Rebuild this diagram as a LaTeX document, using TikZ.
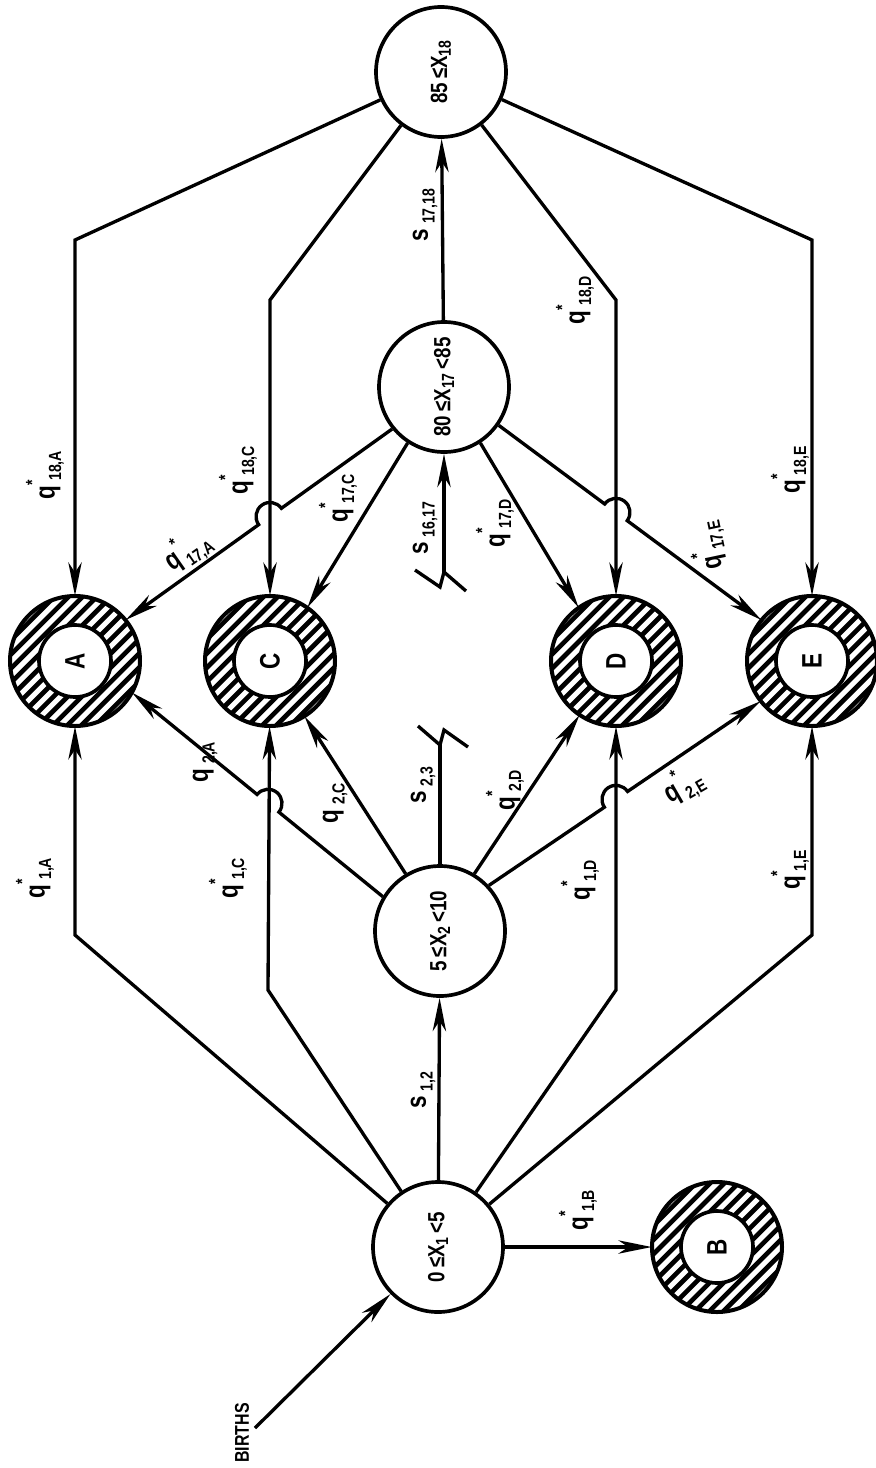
\documentclass[tikz,border=0pt]{standalone}
\usepackage{fontspec}
\setmainfont{Liberation Sans}[FakeStretch=0.8]
\usetikzlibrary{arrows.meta,calc}
\newcommand\nfont{\fontsize{20}{20}\selectfont\bfseries}
\newcommand\lfont{\fontsize{24}{24}\selectfont\bfseries}
\newcommand\sfnt{\fontsize{15}{15}\selectfont\bfseries}
\newcommand\qq[2]{#1\makebox[0pt][l]{\raisebox{1.1ex}{\sfnt *}}\,\raisebox{-0.45ex}{\sfnt #2}}
\newcommand\qn[2]{#1\,\raisebox{-0.45ex}{\sfnt #2}}
\newcommand\xs[1]{\raisebox{-0.3ex}{\fontsize{15}{15}\selectfont #1}}
\newcommand\hring[1]{%
  \begin{scope}
    \clip (#1) circle[radius=65];
    \foreach \k in {-14,...,14} {\draw[line width=1.4mm] ($(#1)+(\k*14.14-120,120)$) -- ++(240,-240);}
  \end{scope}
  \fill[white] (#1) circle[radius=36];
  \draw[line width=1.2mm] (#1) circle[radius=65];
  \draw[line width=1.1mm] (#1) circle[radius=36];}
\begin{document}
\begin{tikzpicture}[x=0.3mm,y=-0.3mm,
  st/.style={circle, draw, line width=1.1mm, minimum size=39mm, inner sep=0pt, font=\nfont},
  ab/.style={circle, minimum size=39mm, inner sep=0pt, font=\lfont},
  ln/.style={line width=1mm},
  ar/.style={ln, -{Stealth[length=10mm,width=4mm,inset=3mm]}},
  lb/.style={rotate=90, font=\lfont, inner sep=0pt}]
\useasboundingbox (0,0) rectangle (876,1468);
% state nodes
\node[st] (N1) at (438,1247) {\rotatebox{90}{0\,≤X\xs{1}\,<5}};
\node[st] (N2) at (440,931) {\rotatebox{90}{5\,≤X\xs{2}\,<10}};
\node[st] (N17) at (444,387) {\rotatebox{90}{80\,≤X\xs{17}\,<85}};
\node[st] (N18) at (441,72) {\rotatebox{90}{85\,≤X\xs{18}}};
% absorbing nodes
\node[ab] (A) at (75,661) {};
\node[ab] (C) at (270,661) {};
\node[ab] (D) at (616,661) {};
\node[ab] (E) at (812,661) {};
\node[ab] (B) at (717,1247) {};
\hring{A}\hring{C}\hring{D}\hring{E}\hring{B}
\node[font=\lfont] at (A) {\rotatebox{90}{A}};
\node[font=\lfont] at (C) {\rotatebox{90}{C}};
\node[font=\lfont] at (D) {\rotatebox{90}{D}};
\node[font=\lfont] at (E) {\rotatebox{90}{E}};
\node[font=\lfont] at (B) {\rotatebox{90}{B}};
% births
\coordinate (bir) at (255,1428);
\node[rotate=90, font=\fontsize{17}{17}\selectfont\bfseries, inner sep=0pt] (births) at (242,1433) {BIRTHS};
\draw[ar] (bir) -- (N1);
% from N1
\coordinate (a1) at (75,935);
\coordinate (c1) at (268,990);
\coordinate (d1) at (616,990);
\coordinate (e1) at (812,935);
\draw[ar] (N1) -- (a1) -- (A);
\draw[ar] (N1) -- (c1) -- (C);
\draw[ar] (N1) -- (N2);
\draw[ar] (N1) -- (d1) -- (D);
\draw[ar] (N1) -- (e1) -- (E);
\draw[ar] (N1) -- (B);
% from N18
\coordinate (a18) at (75,240);
\coordinate (c18) at (270,300);
\coordinate (d18) at (616,300);
\coordinate (e18) at (812,240);
\draw[ar] (N18) -- (a18) -- (A);
\draw[ar] (N18) -- (c18) -- (C);
\draw[ar] (N18) -- (d18) -- (D);
\draw[ar] (N18) -- (e18) -- (E);
\draw[ar] (N17) -- (N18);
% from N2
\draw[ar] (N2.121) -- (C.-58);
\draw[ar] (N2.59) -- (D.236);
\draw[ar] (N2.149) -- (278.9,812.1) arc[start angle=39, delta angle=-180, radius=14] -- (A.-29);
\draw[ar] (N2.43) -- (604.4,807.2) arc[start angle=145.8, delta angle=180, radius=14] -- (E.218);
\coordinate (z23) at (440,745);
\draw[ln] (N2) -- (z23);
\draw[ln] (468,747) -- (444,730) -- (z23) -- (418,726);
% from N17
\draw[ar] (N17.237) -- (C.55);
\draw[ar] (N17.303) -- (D.125);
\draw[ar] (N17.219) -- (281.4,508.3) arc[start angle=-35.7, delta angle=-180, radius=14] -- (A.39);
\draw[ar] (N17.-35) -- (604.7,504.0) arc[start angle=-143.5, delta angle=180, radius=14] -- (E.141);
\coordinate (z16) at (444,572);
\draw[ar] (z16) -- (N17);
\draw[ln] (415,570) -- (440,587) -- (z16) -- (466,591);
% labels
\node[lb] at (35,878) {\qq{q}{1,A}};
\node[lb] at (228,878) {\qq{q}{1,C}};
\node[lb] at (423,1090) {\qn{s}{1,2}};
\node[lb] at (580,880) {\qq{q}{1,D}};
\node[lb] at (790,870) {\qq{q}{1,E}};
\node[lb] at (578,1210) {\qq{q}{1,B}};
\node[lb] at (205,762) {\qn{q}{2,A}};
\node[lb] at (335,803) {\qn{q}{2,C}};
\node[lb] at (423,785) {\qn{s}{2,3}};
\node[lb] at (505,790) {\qq{q}{2,D}};
\node[lb, rotate=-60] at (683,785) {\qq{q}{2,E}};
\node[lb, rotate=-55] at (187,550) {\qq{q}{17,A}};
\node[lb] at (338,498) {\qq{q}{17,C}};
\node[lb] at (425,528) {\qn{s}{16,17}};
\node[lb] at (495,523) {\qq{q}{17,D}};
\node[lb, rotate=12] at (708,546) {\qq{q}{17,E}};
\node[lb] at (45,475) {\qq{q}{18,A}};
\node[lb] at (238,470) {\qq{q}{18,C}};
\node[lb] at (425,215) {\qn{s}{17,18}};
\node[lb] at (575,300) {\qq{q}{18,D}};
\node[lb] at (790,470) {\qq{q}{18,E}};
\end{tikzpicture}
\end{document}
